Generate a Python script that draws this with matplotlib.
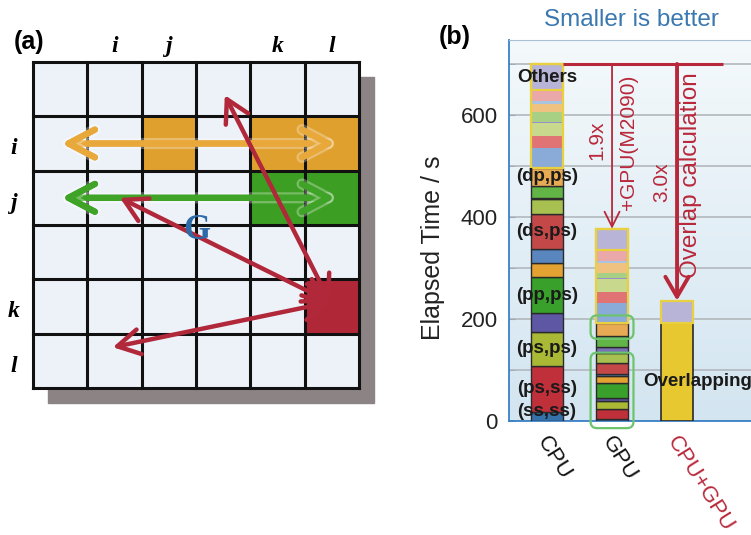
import numpy as np
import matplotlib
matplotlib.use('Agg')
import matplotlib.pyplot as plt
from matplotlib.patches import Rectangle, FancyArrowPatch, FancyBboxPatch
from matplotlib.colors import LinearSegmentedColormap
import matplotlib.patheffects as pe

plt.rcParams['font.family'] = ['Liberation Sans', 'DejaVu Sans']

# ---- (a) 6x6 orbital-index grid ----
n_grid = 6
orange_cells = [(1, 2), (1, 4), (1, 5)]     # (row, col)
green_cells = [(2, 4), (2, 5)]
red_cells = [(4, 5)]
index_names = ['i', 'j', 'k', 'l']
index_slots = [1, 2, 4, 5]
row_arrow_rows = [1.5, 2.5]
row_arrow_span = [0.53, 5.56]
g_hub = (5.47, 4.42)
g_ends = [(3.53, 0.61), (1.60, 2.50), (1.47, 5.25)]

# ---- (b) elapsed time per shell-pair block, bottom to top ----
systems = ['CPU', 'GPU', 'CPU+GPU']
blocks = ['(ss,ss)', '(ps,ss)', '(ps,ps)', '', '(pp,ps)', '', '', '(ds,ps)',
          '', '', '', '(dp,ps)', '', '', '', '', '', '', '', '', 'Others']
cpu_times = [18, 90, 67, 36, 72, 27, 28, 68, 29, 3, 22, 37,
             39, 23, 25, 2, 19, 16, 7, 20, 52]
gpu_times = [4, 20, 16, 5, 29, 14, 5, 21, 20, 11, 22, 26,
             39, 21, 25, 2, 10, 20, 4, 22, 41]
overlap_time = 193
overlap_others = 43

block_colors = ['#3572ab', '#c0303a', '#a9b935', '#5e58a4', '#39a12b', '#e3a231',
                '#5a86c0', '#c44848', '#a8c050', '#7a70b8', '#62b446', '#e8aa52',
                '#8aaad8', '#e07474', '#c8d88c', '#9a90c8', '#a8d084', '#f0c282',
                '#a8c4e0', '#eaa8a8', '#b8b4d8']
n_core = 12
dark = '#2a2a2a'
yellow = '#e8d040'
red = '#b8283a'

fig = plt.figure(figsize=(7.51, 5.35), dpi=100)


def px_box(x0, y0, x1, y1):
    return [x0 / 751, 1 - y1 / 535, (x1 - x0) / 751, (y1 - y0) / 535]


# ================= panel (a) =================
ax_a = fig.add_axes(px_box(33, 62, 359, 388))
ax_a.set_xlim(0, n_grid)
ax_a.set_ylim(n_grid, 0)
ax_a.axis('off')

ax_a.add_patch(Rectangle((0.28, 0.28), n_grid, n_grid, color='#8c8484',
                         zorder=0, clip_on=False))
ax_a.add_patch(Rectangle((0, 0), n_grid, n_grid, color='#edf2f9', zorder=1))
for cells, col in [(orange_cells, '#e0a02e'), (green_cells, '#3c9e22'),
                   (red_cells, '#b02838')]:
    for r, c in cells:
        ax_a.add_patch(Rectangle((c, r), 1, 1, color=col, zorder=2))
for t in range(n_grid + 1):
    ax_a.plot([t, t], [0, n_grid], color='#111111', lw=2.2, zorder=3,
              solid_capstyle='projecting', clip_on=False)
    ax_a.plot([0, n_grid], [t, t], color='#111111', lw=2.2, zorder=3,
              solid_capstyle='projecting', clip_on=False)

glow = [pe.withStroke(linewidth=8, foreground='white', alpha=0.3)]
for row, col in zip(row_arrow_rows, ['#e8a83a', '#3ea326']):
    arr = FancyArrowPatch((row_arrow_span[0], row), (row_arrow_span[1], row),
                          arrowstyle='<->,head_length=0.95,head_width=0.5',
                          mutation_scale=20, color=col, lw=4.5,
                          shrinkA=0, shrinkB=0, zorder=5)
    arr.set_path_effects(glow + [pe.Normal()])
    ax_a.add_patch(arr)

for end in g_ends:
    arr = FancyArrowPatch(end, g_hub,
                          arrowstyle='<->,head_length=0.8,head_width=0.45',
                          mutation_scale=20, color='#b0283a', lw=3.2,
                          shrinkA=0, shrinkB=0, zorder=6)
    ax_a.add_patch(arr)

ax_a.text(3.02, 3.1, 'G', color='#2c6aa8', fontsize=25, fontweight='bold',
          family='Liberation Serif', ha='center', va='center', zorder=7)

for name, s in zip(index_names, index_slots):
    ax_a.text(s + 0.5, -0.28, name, fontsize=17, fontweight='bold',
              style='italic', family='Liberation Serif', ha='center',
              va='center', clip_on=False)
    ax_a.text(-0.36, s + 0.6, name, fontsize=17, fontweight='bold',
              style='italic', family='Liberation Serif', ha='center',
              va='center', clip_on=False)

fig.text(29 / 751, 1 - 42 / 535, '(a)', fontsize=18, fontweight='bold',
         ha='center', va='center')

# ================= panel (b) =================
ax = fig.add_axes(px_box(509, 40, 770, 421))
grad = np.linspace(0, 1, 256).reshape(-1, 1)
bg = LinearSegmentedColormap.from_list('bg', ['#d3e5f1', '#f4f9fb'])
ax.imshow(grad, cmap=bg, extent=[0, 1, 0, 1], transform=ax.transAxes,
          aspect='auto', origin='lower', zorder=0)
ax.patch.set_visible(False)
ax.set_xlim(-0.585, 3.43)
ax.set_ylim(0, 747)

ax.set_yticks([0, 200, 400, 600])
ax.set_yticks(range(0, 701, 100), minor=True)
ax.grid(which='both', axis='y', color='#b2b8be', lw=1.2, zorder=1)
ax.set_xticks([])
ax.tick_params(axis='y', which='both', direction='in', length=4,
               color='#9aaab8', labelsize=16, pad=8, labelcolor='#222222')
ax.spines['right'].set_visible(False)
ax.spines['top'].set_color('#a8c0d4')
ax.spines['left'].set_color('#3a80c8')
ax.spines['bottom'].set_color('#3a80c8')
ax.spines['left'].set_linewidth(1.3)
ax.spines['bottom'].set_linewidth(1.3)

ax.set_ylabel('Elapsed Time / s', fontsize=18, color='#222222')
ax.yaxis.set_label_coords(-0.245, 0.454)

bar_w = 0.5


def stack(x, times):
    bottoms = np.concatenate([[0], np.cumsum(times)[:-1]])
    for k, (b, h) in enumerate(zip(bottoms, times)):
        ax.bar(x, h, bottom=b, width=bar_w, color=block_colors[k],
               edgecolor=dark if k < n_core else 'none', linewidth=1.0,
               zorder=3)
    ax.bar(x, sum(times[n_core:]), bottom=sum(times[:n_core]), width=bar_w,
           fill=False, edgecolor=yellow, lw=1.6, zorder=4)
    ax.bar(x, times[-1], bottom=sum(times[:-1]), width=bar_w, fill=False,
           edgecolor=yellow, lw=1.6, zorder=4)
    return bottoms


cpu_bottoms = stack(0, cpu_times)
gpu_bottoms = stack(1, gpu_times)

ax.bar(2, overlap_time, width=bar_w, color='#e8c830', edgecolor=dark,
       lw=1.2, zorder=3)
ax.bar(2, overlap_others, bottom=overlap_time, width=bar_w,
       color=block_colors[-1], edgecolor=yellow, lw=1.6, zorder=3)

for k, name in enumerate(blocks):
    if name:
        yc = max(cpu_bottoms[k] + cpu_times[k] / 2, 18)
        ax.text(0, yc, name, fontsize=13.5, fontweight='bold',
                color='#1a1a1a', ha='center', va='center', zorder=6)
ax.text(1.48, overlap_time * 0.4, 'Overlapping', fontsize=13.5,
        fontweight='bold', color='#1a1a1a', ha='left', va='center', zorder=6)

# highlight boxes on the GPU bar
ymul = (1 / 0.51) / (1 / 65.0)
gpu_cum = np.cumsum(gpu_times)
for lo, hi in [(-14, gpu_cum[8]), (gpu_bottoms[11] - 6, gpu_cum[11] + 14)]:
    box = FancyBboxPatch((1 - 0.33, lo), 0.66, hi - lo,
                         boxstyle='round,pad=0,rounding_size=0.1',
                         mutation_aspect=ymul, fill=False,
                         edgecolor='#6cc46c', lw=1.6, zorder=5, clip_on=False)
    ax.add_patch(box)

# speed-up arrows
cpu_total = sum(cpu_times)
gpu_total = sum(gpu_times)
hybrid_total = overlap_time + overlap_others
ax.plot([bar_w / 2, 2.71], [cpu_total, cpu_total], color=red, lw=2.2,
        zorder=5, solid_capstyle='butt')
ax.annotate('', xy=(1, gpu_total), xytext=(1, cpu_total),
            arrowprops=dict(arrowstyle='->,head_length=0.6,head_width=0.3',
                            color=red, lw=1.3, shrinkA=0, shrinkB=0,
                            mutation_scale=18), zorder=5)
ax.annotate('', xy=(2, hybrid_total), xytext=(2, cpu_total),
            arrowprops=dict(arrowstyle='->,head_length=0.6,head_width=0.35',
                            color=red, lw=2.8, shrinkA=0, shrinkB=0,
                            mutation_scale=24), zorder=5)
ax.text(0.77, 550, f'{cpu_total / gpu_total:.1f}x', rotation=90, color=red,
        fontsize=15, ha='center', va='center', zorder=6)
ax.text(1.26, 547, '+GPU(M2090)', rotation=90, color=red, fontsize=15,
        ha='center', va='center', zorder=6)
ax.text(1.77, 469, f'{cpu_total / hybrid_total:.1f}x', rotation=90,
        color=red, fontsize=15, ha='center', va='center', zorder=6)
ax.text(2.22, 482, 'Overlap calculation', rotation=90, color=red,
        fontsize=17.5, ha='center', va='center', zorder=6)

# rotated category labels
for x, name in enumerate(systems):
    ax.text(x - 0.22, -0.029, name, transform=ax.get_xaxis_transform(),
            rotation=-58, fontsize=16, ha='left', va='top',
            color=red if '+' in name else '#111111', clip_on=False)

fig.text(631 / 751, 1 - 20 / 535, 'Smaller is better', color='#3a78b0',
         fontsize=17.5, ha='center', va='center')
fig.text(455 / 751, 1 - 37 / 535, '(b)', fontsize=18, fontweight='bold',
         ha='center', va='center')

fig.savefig('out.png', dpi=100, facecolor='white')
